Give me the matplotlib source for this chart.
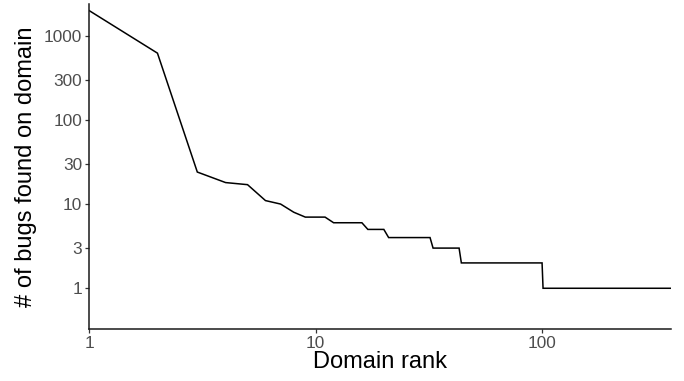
import matplotlib
matplotlib.use("Agg")
import matplotlib.pyplot as plt
import numpy as np

# Data: bug counts per domain, by rank
head_counts = [1980, 620, 24, 18, 17, 11, 10, 8, 7, 7, 7]
# runs of equal counts: (count, number of domains)
tail_runs = [(6, 5), (5, 4), (4, 12), (3, 11), (2, 57), (1, 270)]

counts = list(head_counts)
for c, n in tail_runs:
    counts += [c] * n
ranks = np.arange(1, len(counts) + 1)

y_ticks = [1, 3, 10, 30, 100, 300, 1000]
x_ticks = [1, 10, 100]

plt.rcParams['font.family'] = ['Liberation Sans', 'DejaVu Sans']

fig = plt.figure(figsize=(6.84, 3.81), dpi=100)
ax = fig.add_axes([89.3/684, 1-328.7/381, (670.7-89.3)/684, (328.7-4)/381])
ax.plot(ranks, counts, color='black', lw=1.1, solid_joinstyle='miter')
ax.set_xscale('log')
ax.set_yscale('log')
ax.set_xlim(1, len(counts))
ax.set_ylim(0.331, 2377)
ax.set_xticks(x_ticks)
ax.set_xticklabels([str(t) for t in x_ticks])
ax.set_yticks(y_ticks)
ax.set_yticklabels([str(t) for t in y_ticks])
ax.minorticks_off()
for s in ['top', 'right']:
    ax.spines[s].set_visible(False)
for s in ['left', 'bottom']:
    ax.spines[s].set_linewidth(1.1)
    ax.spines[s].set_color('#1a1a1a')
ax.tick_params(axis='both', length=3, width=0.9, color='#333333',
               labelcolor='#4D4D4D', labelsize=12.4, pad=2)
ax.set_xlabel('Domain rank', fontsize=17, color='black', labelpad=0)
ax.set_ylabel('# of bugs found on domain', fontsize=17, color='black', labelpad=5)
fig.savefig('out.png', dpi=100)
